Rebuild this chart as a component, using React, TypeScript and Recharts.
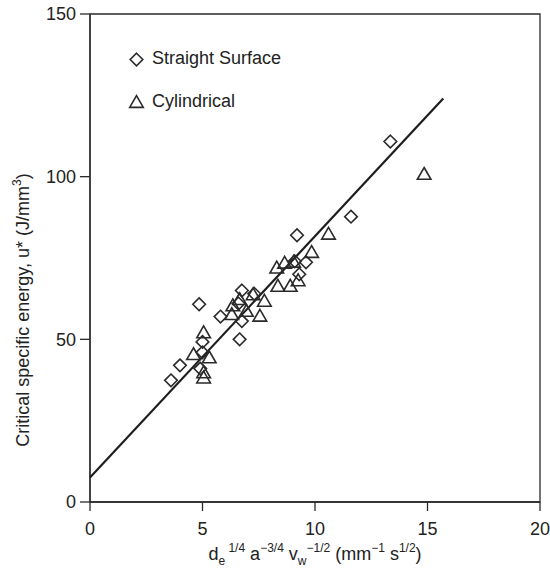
import React from "react";
import {
  ScatterChart,
  Scatter,
  XAxis,
  YAxis,
  Legend,
  Label,
  ReferenceArea,
} from "recharts";

// Straight surface grinding (diamonds)
const straightX = [3.6, 4.0, 4.9, 5.0, 5.0, 4.85, 5.8, 6.6, 6.75, 6.75, 6.65, 7.3, 9.2, 9.3, 9.6, 9.1, 11.6, 13.35];
const straightY = [37.4, 42, 41, 46, 49.2, 60.8, 57, 61, 65, 55.6, 50, 64, 82, 70, 73.7, 74, 87.7, 110.8];

// Cylindrical grinding (triangles)
const cylX = [4.6, 5.05, 5.3, 5.05, 5.05, 6.35, 6.3, 6.95, 7.25, 7.75, 7.55, 6.65, 8.3, 8.65, 9.05, 8.35, 8.9, 9.25, 9.85, 10.6, 14.85];
const cylY = [45.6, 52.3, 44.6, 40, 38.4, 60.6, 57.9, 58.9, 64, 62, 57.4, 62.5, 72.2, 73.7, 74, 66.6, 66.6, 68.3, 77, 82.6, 101];

// fitted line end points
const fitX = [0, 15.7];
const fitY = [7.5, 124];

const xTicks = [0, 5, 10, 15, 20];
const yTicks = [0, 50, 100, 150];

const seriesNames = ["Straight Surface", "Cylindrical"];

const zip = (xs: number[], ys: number[]) => xs.map((x, i) => ({ x, y: ys[i] }));

const straightData = zip(straightX, straightY);
const cylData = zip(cylX, cylY);
const fitData = zip(fitX, fitY);

const INK = "#2a2a2a";
const FONT = '"Liberation Sans", Arial, sans-serif';

const diamondPath = (cx: number, cy: number, r = 6.3) =>
  `M${cx},${cy - r}L${cx + r},${cy}L${cx},${cy + r}L${cx - r},${cy}Z`;

const trianglePath = (cx: number, cy: number, w = 6.8, h = 5.9) =>
  `M${cx},${cy - h}L${cx + w},${cy + h}L${cx - w},${cy + h}Z`;

const Diamond = (props: any) => (
  <path d={diamondPath(props.cx, props.cy)} fill="none" stroke={INK} strokeWidth={1.6} />
);

const Triangle = (props: any) => (
  <path d={trianglePath(props.cx, props.cy)} fill="none" stroke={INK} strokeWidth={1.6} />
);

const NoDot = () => <g />;

function LegendBox() {
  return (
    <svg width={200} height={80}>
      {seriesNames.map((name, i) => (
        <g key={name}>
          <path
            d={i === 0 ? diamondPath(8.5, 15.5) : trianglePath(8.5, 57.5)}
            fill="none"
            stroke={INK}
            strokeWidth={1.6}
          />
          <text x={24} y={i === 0 ? 20 : 63} fontSize={18} fill="#222" fontFamily={FONT}>
            {name}
          </text>
        </g>
      ))}
    </svg>
  );
}

function XTitle(props: any) {
  const vb = props.viewBox;
  const cx = vb.x + vb.width / 2;
  return (
    <text x={cx} y={560} textAnchor="middle" fontSize={18} fill="#222" fontFamily={FONT}>
      d
      <tspan fontSize={12} dy={5}>e</tspan>
      <tspan fontSize={12} dy={-13}>{" 1/4"}</tspan>
      <tspan dy={8}>{" a"}</tspan>
      <tspan fontSize={12} dy={-8}>{"\u22123/4"}</tspan>
      <tspan dy={8}>{" v"}</tspan>
      <tspan fontSize={12} dy={5}>w</tspan>
      <tspan fontSize={12} dy={-13}>{"\u22121/2"}</tspan>
      <tspan dy={8}>{" (mm"}</tspan>
      <tspan fontSize={12} dy={-8}>{"\u22121"}</tspan>
      <tspan dy={8}>{" s"}</tspan>
      <tspan fontSize={12} dy={-8}>1/2</tspan>
      <tspan dy={8}>)</tspan>
    </text>
  );
}

function YTitle() {
  const x = 29;
  const y = 310;
  return (
    <text
      x={x}
      y={y}
      textAnchor="middle"
      transform={`rotate(-90, ${x}, ${y})`}
      fontSize={18}
      fill="#222"
      fontFamily={FONT}
    >
      Critical specific energy, u* (J/mm
      <tspan fontSize={12} dy={-8}>3</tspan>
      <tspan dy={8}>)</tspan>
    </text>
  );
}

export default function App() {
  return (
    <div style={{ position: "absolute", left: 0, top: 0 }}>
      <ScatterChart
        width={550}
        height={569}
        margin={{ top: 14, right: 10, bottom: 0, left: 0 }}
        style={{ fontFamily: FONT }}
      >
        <XAxis
          type="number"
          dataKey="x"
          domain={[0, 20]}
          ticks={xTicks}
          height={67}
          tickSize={9}
          tickMargin={11}
          stroke={INK}
          strokeWidth={1.3}
          tick={{ fill: "#222", fontSize: 18 }}
        >
          <Label content={<XTitle />} />
        </XAxis>
        <YAxis
          type="number"
          dataKey="y"
          domain={[0, 150]}
          ticks={yTicks}
          width={90}
          tickSize={10}
          tickMargin={4}
          stroke={INK}
          strokeWidth={1.3}
          tick={{ fill: "#222", fontSize: 18 }}
        >
          <Label content={<YTitle />} />
        </YAxis>
        <ReferenceArea x1={0} x2={20} y1={0} y2={150} fill="none" stroke={INK} strokeWidth={1.3} />
        <Legend
          layout="vertical"
          align="center"
          verticalAlign="middle"
          content={<LegendBox />}
          wrapperStyle={{ left: 128, top: 44, width: 200 }}
        />
        <Scatter
          name="fit"
          data={fitData}
          line={{ stroke: "#1e1e1e", strokeWidth: 2.2 }}
          shape={<NoDot />}
          legendType="none"
          isAnimationActive={false}
        />
        <Scatter name={seriesNames[0]} data={straightData} shape={<Diamond />} isAnimationActive={false} />
        <Scatter name={seriesNames[1]} data={cylData} shape={<Triangle />} isAnimationActive={false} />
      </ScatterChart>
    </div>
  );
}
